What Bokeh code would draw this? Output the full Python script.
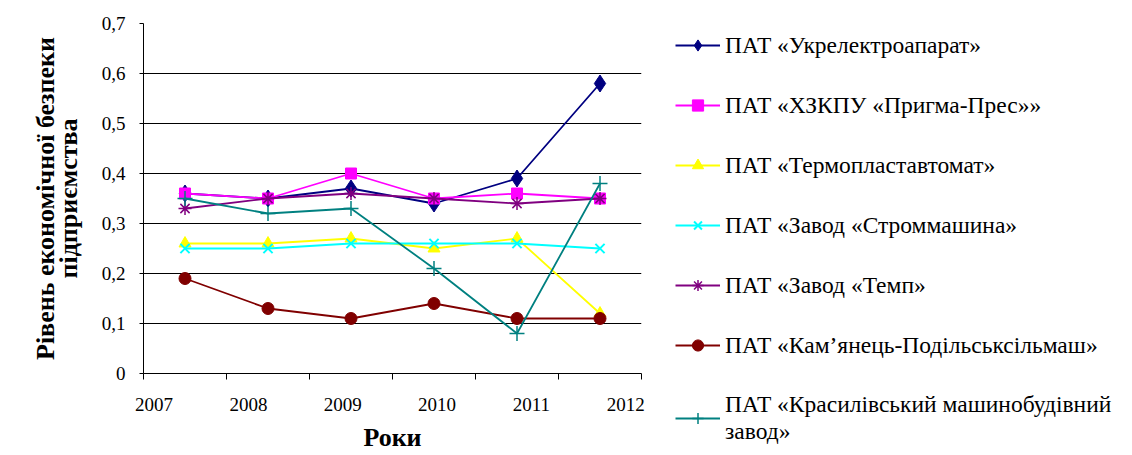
from bokeh.plotting import figure
from bokeh.models import FixedTicker, Legend, LegendItem, Range1d
from bokeh.embed import file_html
from bokeh.resources import INLINE

years = ["2007", "2008", "2009", "2010", "2011", "2012"]

names = [
    "ПАТ «Укрелектроапарат»",
    "ПАТ «ХЗКПУ «Пригма-Прес»»",
    "ПАТ «Термопластавтомат»",
    "ПАТ «Завод «Строммашина»",
    "ПАТ «Завод «Темп»",
    "ПАТ «Кам’янець-Подільськсільмаш»",
    "ПАТ «Красилівський машинобудівний\nзавод»",
]
ukrelektroaparat = [0.36, 0.35, 0.37, 0.34, 0.39, 0.58]
pryhma_pres = [0.36, 0.35, 0.40, 0.35, 0.36, 0.35]
termoplastavtomat = [0.26, 0.26, 0.27, 0.25, 0.27, 0.12]
strommashyna = [0.25, 0.25, 0.26, 0.26, 0.26, 0.25]
temp = [0.33, 0.35, 0.36, 0.35, 0.34, 0.35]
kamianets = [0.19, 0.13, 0.11, 0.14, 0.11, 0.11]
krasyliv = [0.35, 0.32, 0.33, 0.21, 0.08, 0.38]

y_ticks = [0, 0.1, 0.2, 0.3, 0.4, 0.5, 0.6, 0.7]
y_tick_labels = ["0", "0,1", "0,2", "0,3", "0,4", "0,5", "0,6", "0,7"]

series = [ukrelektroaparat, pryhma_pres, termoplastavtomat, strommashyna, temp, kamianets, krasyliv]
colors = ["#000080", "#FF00FF", "#FFFF00", "#00FFFF", "#800080", "#800000", "#008080"]
markers = ["diamond", "square", "triangle", "x", "asterisk", "circle", "cross"]
msizes = [17, 11, 12, 13, 13, 12, 15]
mwidths = [1, 1, 1, 2, 1.5, 1, 1.5]

FONT = "Liberation Serif"

p = figure(frame_width=498, frame_height=350, min_border_left=143, min_border_top=23,
           min_border_bottom=74, min_border_right=480,
           x_range=Range1d(0, len(years)), y_range=Range1d(0, 0.7),
           output_backend="svg", toolbar_location=None)
p.outline_line_color = None
p.background_fill_color = "white"
p.border_fill_color = "white"

xs = [i + 0.5 for i in range(len(years))]
items = []
for name, vals, c, m, ms, mw in zip(names, series, colors, markers, msizes, mwidths):
    r1 = p.line(xs, vals, line_color=c, line_width=1.8)
    r2 = p.scatter(xs, vals, marker=m, size=ms, fill_color=c, line_color=c, line_width=mw)
    items.append(LegendItem(label=name, renderers=[r1, r2]))

# x axis: tick marks at category boundaries, year labels spread evenly
n = len(years)
lab_start, lab_end = 0.128, 5.81
label_pos = [round(lab_start + i * (lab_end - lab_start) / (n - 1), 3) for i in range(n)]
xa = p.xaxis[0]
xa.ticker = FixedTicker(ticks=label_pos, minor_ticks=list(range(n + 1)))
xa.major_label_overrides = {pos: y for pos, y in zip(label_pos, years)}
xa.major_tick_out = 0
xa.major_tick_in = 0
xa.minor_tick_out = 6
xa.minor_tick_in = 0
xa.minor_tick_line_color = "black"
xa.axis_line_color = "black"
xa.major_label_standoff = 18
xa.major_label_text_font = FONT
xa.major_label_text_font_size = "19px"
xa.major_label_text_color = "black"
xa.axis_label = "Роки"
xa.axis_label_text_font = FONT
xa.axis_label_text_font_size = "26px"
xa.axis_label_text_font_style = "bold"
xa.axis_label_text_color = "black"
xa.axis_label_standoff = 9

ya = p.yaxis[0]
ya.ticker = FixedTicker(ticks=y_ticks, minor_ticks=[])
ya.major_label_overrides = {t: l for t, l in zip(y_ticks, y_tick_labels)}
ya.major_tick_out = 4
ya.major_tick_in = 0
ya.axis_line_color = "black"
ya.major_tick_line_color = "black"
ya.major_label_standoff = 14
ya.major_label_text_font = FONT
ya.major_label_text_font_size = "19px"
ya.major_label_text_color = "black"
ya.axis_label = "Рівень економічної безпеки\nпідприємства"
ya.axis_label_text_font = FONT
ya.axis_label_text_font_size = "26px"
ya.axis_label_text_font_style = "bold"
ya.axis_label_text_color = "black"
ya.axis_label_text_line_height = 0.8
ya.axis_label_standoff = 16

p.xgrid.grid_line_color = None
p.ygrid.ticker = FixedTicker(ticks=y_ticks[1:-1])
p.ygrid.grid_line_color = "black"
p.ygrid.grid_line_alpha = 1.0
p.ygrid.grid_line_width = 1

legend = Legend(items=items, location=(34, -72), margin=0, padding=0, spacing=32,
                glyph_width=45, glyph_height=28, label_standoff=5, label_height=28,
                label_text_font=FONT, label_text_font_size="23.5px", label_text_color="black",
                label_text_line_height=1.2,
                border_line_color=None, background_fill_alpha=0)
p.add_layout(legend, "right")

open("out.html", "w").write(file_html(p, INLINE))
